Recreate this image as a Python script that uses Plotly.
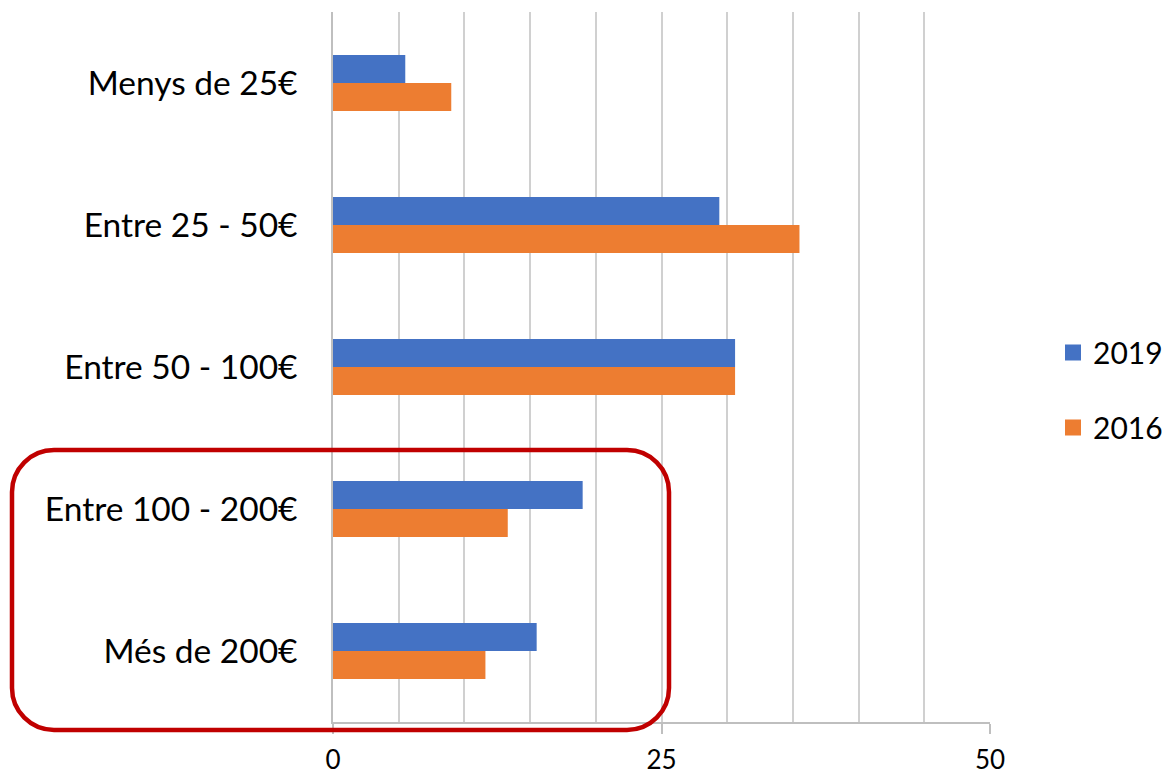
import plotly.graph_objects as go

# Dades del gràfic
categories = ["Menys de 25€", "Entre 25 - 50€", "Entre 50 - 100€", "Entre 100 - 200€", "Més de 200€"]
values_2019 = [5.5, 29.4, 30.6, 19.0, 15.5]
values_2016 = [9.0, 35.5, 30.6, 13.3, 11.6]
x_ticks = [0, 25, 50]

BLUE = "#4472C4"
ORANGE = "#ED7D31"
FONT = "Lato"

W, H = 1173, 776
L, R, T, B = 333, 183, 12, 54
PW, PH = W - L - R, H - T - B


def px(x):
    return (x - L) / PW


def py(y):
    return 1 - (y - T) / PH


def rounded_rect(x0, y0, x1, y1, r):
    # camí en coordenades de paper a partir de píxels
    k = 0.5523 * r
    pts = [
        f"M {px(x0 + r)},{py(y0)}",
        f"L {px(x1 - r)},{py(y0)}",
        f"C {px(x1 - r + k)},{py(y0)} {px(x1)},{py(y0 + r - k)} {px(x1)},{py(y0 + r)}",
        f"L {px(x1)},{py(y1 - r)}",
        f"C {px(x1)},{py(y1 - r + k)} {px(x1 - r + k)},{py(y1)} {px(x1 - r)},{py(y1)}",
        f"L {px(x0 + r)},{py(y1)}",
        f"C {px(x0 + r - k)},{py(y1)} {px(x0)},{py(y1 - r + k)} {px(x0)},{py(y1 - r)}",
        f"L {px(x0)},{py(y0 + r)}",
        f"C {px(x0)},{py(y0 + r - k)} {px(x0 + r - k)},{py(y0)} {px(x0 + r)},{py(y0)}",
        "Z",
    ]
    return " ".join(pts)


fig = go.Figure()

fig.add_trace(go.Bar(
    y=categories, x=values_2019, orientation="h", name="2019",
    marker=dict(color=BLUE, line=dict(width=0)), showlegend=False,
))
fig.add_trace(go.Bar(
    y=categories, x=values_2016, orientation="h", name="2016",
    marker=dict(color=ORANGE, line=dict(width=0)), showlegend=False,
))

# entrades de llegenda amb quadrats més grans
fig.add_trace(go.Scatter(
    x=[None], y=[None], mode="markers", name="2019", legendgroup="a",
    marker=dict(symbol="square", size=21, color=BLUE),
))
fig.add_trace(go.Scatter(
    x=[None], y=[None], mode="markers", name="2016", legendgroup="b",
    marker=dict(symbol="square", size=21, color=ORANGE),
))

fig.update_layout(
    width=W, height=H,
    margin=dict(l=L, r=R, t=T, b=B, autoexpand=False),
    plot_bgcolor="white", paper_bgcolor="white",
    barmode="group", bargap=0.606, bargroupgap=0,
    font=dict(family=FONT, color="black", size=28),
    legend=dict(
        xref="container", yref="container",
        x=1053 / W, xanchor="left", y=1 - 390 / H, yanchor="middle",
        font=dict(family=FONT, size=30),
        traceorder="grouped", tracegroupgap=33,
        bgcolor="rgba(0,0,0,0)",
    ),
    shapes=[dict(
        type="path", xref="paper", yref="paper",
        path=rounded_rect(12, 450, 669, 730, 42),
        line=dict(color="#C00000", width=4.5),
        fillcolor="rgba(0,0,0,0)", layer="above",
    )],
)

fig.update_xaxes(
    range=[0, 50], tickvals=x_ticks, ticks="outside", ticklen=10,
    tickcolor="#bfbfbf", tickwidth=1.5,
    showgrid=True, gridcolor="#d0d0d0", gridwidth=1.5,
    minor=dict(dtick=5, showgrid=True, gridcolor="#d0d0d0", gridwidth=1.5),
    showline=True, linecolor="#bfbfbf", linewidth=1.5,
    zeroline=False, ticklabelstandoff=4, automargin=False,
    tickfont=dict(family=FONT, size=26),
)
fig.update_yaxes(
    autorange="reversed", showline=True, linecolor="#bfbfbf", linewidth=1.5,
    showgrid=False, ticks="", ticklabelstandoff=27, automargin=False,
    tickfont=dict(family=FONT, size=33.5),
)

# sense marge del body perquè la figura ompli la finestra
fig.write_html(
    "out.html",
    config={"displayModeBar": False},
    post_script="document.body.style.margin='0';",
)
